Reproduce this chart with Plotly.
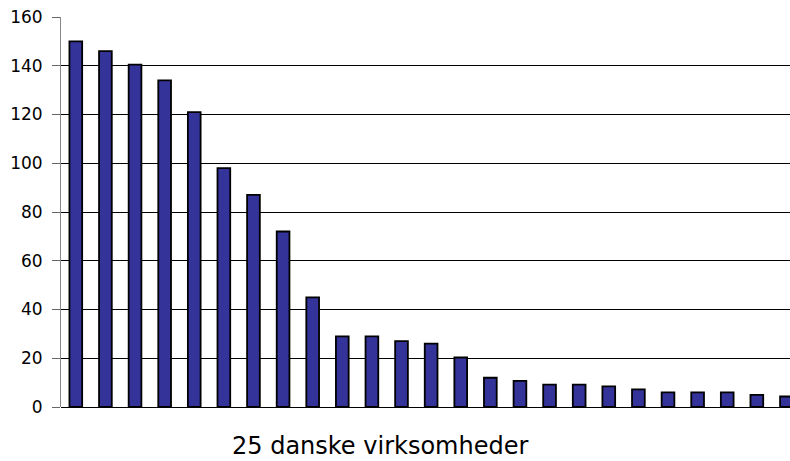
import plotly.graph_objects as go

companies = list(range(1, 26))
values = [150, 146, 140.5, 134, 121, 98, 87, 72, 45, 29, 29, 27, 26, 20.3,
          12, 10.7, 9.2, 9.2, 8.5, 7.2, 6, 6, 6, 5, 4.3]
y_ticks = [0, 20, 40, 60, 80, 100, 120, 140, 160]
x_title = "25 danske virksomheder"

W, H = 790, 461
L, R, T, B = 61, 0, 17, 54

fig = go.Figure(go.Bar(
    x=companies, y=values, width=0.43,
    marker=dict(color="#333399", line=dict(color="#000000", width=1.8)),
))

fig.update_layout(
    width=W, height=H,
    margin=dict(l=L, r=R, t=T, b=B, pad=0),
    paper_bgcolor="white", plot_bgcolor="white",
    font=dict(family="DejaVu Sans", size=17, color="#000000"),
    showlegend=False,
    xaxis=dict(range=[0.5, 25.12], showticklabels=False, ticks="",
               showgrid=False, zeroline=False, showline=False),
    yaxis=dict(range=[0, 160], tickvals=y_ticks, ticks="outside", ticklen=8,
               tickcolor="#666666", showgrid=True, gridcolor="#000000",
               gridwidth=1, zeroline=True, zerolinecolor="#000000",
               zerolinewidth=1, showline=True, linecolor="#888888",
               linewidth=1, ticklabelstandoff=6),
    annotations=[dict(text=x_title, xref="paper", yref="paper",
                      x=(380 - L) / (W - L - R), y=-(446 - (H - B)) / (H - T - B),
                      xanchor="center", yanchor="middle", showarrow=False,
                      font=dict(size=24))],
)

fig.write_html("out.html", config={"displayModeBar": False},
               post_script="document.body.style.margin='0';")
